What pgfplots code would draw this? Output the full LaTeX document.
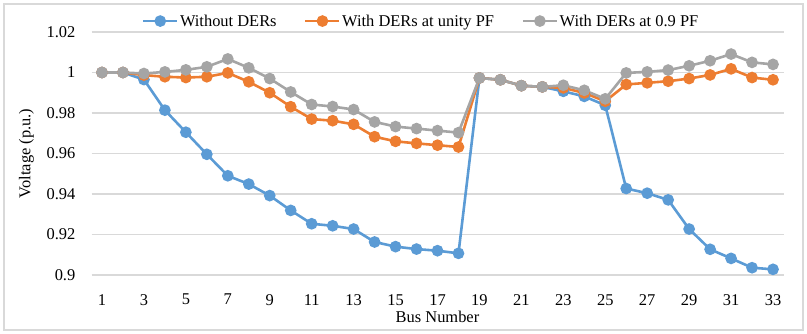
\documentclass[border=0pt]{standalone}
\usepackage{fontspec}
\setmainfont{Liberation Serif}
\usepackage{pgfplots}
\pgfplotsset{compat=1.18}
\definecolor{cblue}{HTML}{5B9BD5}
\definecolor{corange}{HTML}{ED7D31}
\definecolor{cgray}{HTML}{A5A5A5}
\definecolor{cgrid}{HTML}{D9D9D9}
\newcommand{\figfont}{\fontsize{16.5}{19}\selectfont}

\pgfplotstableread{
bus nod unity pf
1  1.0000 1.0000 1.0000
2  1.0000 1.0000 1.0000
3  0.9965 0.9987 0.9995
4  0.9814 0.9979 1.0003
5  0.9705 0.9975 1.0013
6  0.9596 0.9979 1.0028
7  0.9490 0.9998 1.0067
8  0.9449 0.9954 1.0023
9  0.9392 0.9900 0.9970
10 0.9319 0.9831 0.9904
11 0.9253 0.9770 0.9842
12 0.9243 0.9762 0.9832
13 0.9227 0.9744 0.9817
14 0.9163 0.9683 0.9756
15 0.9140 0.9660 0.9733
16 0.9128 0.9650 0.9723
17 0.9120 0.9641 0.9713
18 0.9107 0.9632 0.9703
19 0.9973 0.9973 0.9973
20 0.9964 0.9964 0.9964
21 0.9935 0.9935 0.9935
22 0.9929 0.9929 0.9929
23 0.9907 0.9924 0.9937
24 0.9882 0.9899 0.9912
25 0.9838 0.9858 0.9870
26 0.9427 0.9941 0.9998
27 0.9404 0.9949 1.0003
28 0.9371 0.9957 1.0012
29 0.9227 0.9970 1.0033
30 0.9127 0.9988 1.0058
31 0.9082 1.0018 1.0091
32 0.9036 0.9975 1.0050
33 0.9028 0.9964 1.0040
}\volt

\begin{document}
\begin{tikzpicture}
\draw[cgrid, line width=1.2bp] (4bp,4bp) rectangle (803bp,330bp);
\begin{axis}[
  at={(91.5bp,59bp)}, anchor=south west,
  scale only axis, width=692bp, height=243bp,
  xmin=0.5, xmax=33.5, ymin=0.9, ymax=1.02,
  xtick={1,3,...,33},
  xticklabels={1,3,5,7,9,11,13,15,17,19,21,23,25,27,29,31,33},
  ytick={0.9,0.92,0.94,0.96,0.98,1,1.02},
  yticklabels={0.9,0.92,0.94,0.96,0.98,1,1.02},
  major tick length=0pt,
  axis line style={draw=none},
  ymajorgrids, grid style={cgrid, line width=1.3bp},
  tick label style={font=\figfont, inner sep=0pt},
  yticklabel style={anchor=east, xshift=-16bp},
  xticklabel style={anchor=north, yshift=-19bp},
  xlabel={Bus Number}, ylabel={Voltage (p.u.)},
  label style={font=\figfont},
  xlabel style={at={(rel axis cs:0.5,0)}, anchor=north, inner sep=0pt, yshift=-36bp},
  ylabel style={at={(-0.0939,0.5)}, anchor=center},
  legend columns=3,
  legend style={font=\figfont, draw=none, fill=none, at={(0.476,1.045)}, anchor=center,
    /tikz/every even column/.append style={column sep=26bp},
    nodes={inner sep=1.5bp}},
  legend image code/.code={\draw[mark repeat=2, mark phase=2] plot coordinates {(0bp,0bp) (17bp,0bp) (34bp,0bp)};},
  every axis plot/.append style={line width=2.6bp, mark=*, mark size=4.5bp},
  clip=false,
]
\addplot[cblue, mark options={fill=cblue, draw=cblue}] table[x=bus, y=nod] {\volt};
\addlegendentry{Without DERs}
\addplot[corange, mark options={fill=corange, draw=corange}] table[x=bus, y=unity] {\volt};
\addlegendentry{With DERs at unity PF}
\addplot[cgray, mark options={fill=cgray, draw=cgray}] table[x=bus, y=pf] {\volt};
\addlegendentry{With DERs at 0.9 PF}
\end{axis}
\pgfresetboundingbox
\path[use as bounding box] (0,0) rectangle (807bp,334bp);
\end{tikzpicture}
\end{document}
